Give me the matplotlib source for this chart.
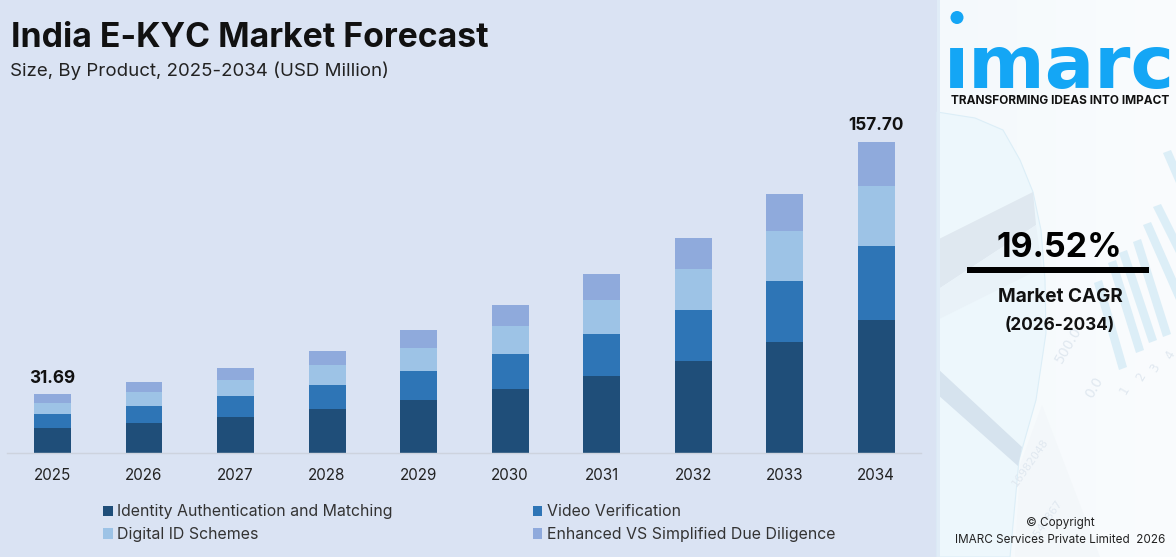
import matplotlib
matplotlib.use("Agg")
import matplotlib.pyplot as plt
from matplotlib.patches import Polygon, Circle, Rectangle
import numpy as np

years = ["2025","2026","2027","2028","2029","2030","2031","2032","2033","2034"]
identity = [12.7,15.2,18.3,22.3,26.9,32.4,39.0,46.6,56.3,67.4]
video = [7.1,8.6,10.6,12.2,14.7,17.7,21.3,25.9,30.9,37.5]
digital = [5.6,7.1,8.1,10.1,11.7,14.2,17.2,20.8,25.4,30.4]
enhanced = [4.6,5.1,6.1,7.1,9.1,10.6,13.2,15.7,18.8,22.3]
series_names = ["Identity Authentication and Matching","Video Verification","Digital ID Schemes","Enhanced VS Simplified Due Diligence"]
colors = ["#1F4E79","#2E75B6","#9DC3E6","#8FAADC"]
first_label, last_label = "31.69", "157.70"

W, H = 1176, 557
fig = plt.figure(figsize=(W/100, H/100), dpi=100, facecolor="#DAE3F3")

bg = fig.add_axes([0,0,1,1])
bg.set_xlim(0,W); bg.set_ylim(H,0); bg.axis("off")
SANS = "Inter"
def px(v): return v*0.72

# right panel
grad = np.linspace(0,1,240)[None,:]
bg.imshow(grad, extent=(937,W,H,0), cmap=matplotlib.colors.LinearSegmentedColormap.from_list("p",["#F4F9FC","#FAFCFE"]), aspect="auto", zorder=1)
bg.set_xlim(0,W); bg.set_ylim(H,0)
bg.add_patch(Polygon([(937,112),(975,118),(1003,130),(1020,160),(1033,192),(1041,230),(1045,280),(1046,333),(1036,400),(1019,460),(1010,557),(937,557)],fc="#EDF7FC",ec="#DCEEF7",lw=0.8,zorder=2))
bg.add_patch(Polygon([(937,240),(1033,192),(1036,225),(937,290)],fc="#DFE8F0",ec="none",zorder=3))
bg.add_patch(Polygon([(937,290),(1036,225),(1042,268),(937,320)],fc="#E9F2F8",ec="none",zorder=3))
bg.add_patch(Polygon([(937,368),(1022,447),(1018,466),(937,394)],fc="#D6E3EE",ec="none",zorder=3))
bg.add_patch(Polygon([(1020,465),(1042,405),(1100,557),(1015,557)],fc="#F3F7FA",ec="none",zorder=3))
bg.add_patch(Rectangle((937,0),3,H,fc="#E0ECF7",ec="none",zorder=3))
for (x0,y0,x1,y1) in [(1094,283,1119,370),(1108,263,1136,353),(1119,253,1149,343),(1133,242,1163,337),(1143,225,1176,300),(1153,207,1176,253),(1163,153,1176,183)]:
    bg.add_patch(Polygon([(x0,y0),(x0+8,y0-3),(x1+8,y1-3),(x1,y1)],fc="#DCEEF7",ec="none",zorder=3))
for s,x,y,r,fs in [("500.0",1068,345,60,14),("0.0",1094,387,60,14),("1",1125,390,60,12),("2",1141,377,60,12),("3",1155,368,60,12),("4",1170,355,60,12),("16982048",1030,462,55,11),("1547867",1046,520,55,11)]:
    bg.text(x,y,s,rotation=r,fontsize=px(fs),color="#E0E8F0",family="DejaVu Sans",ha="center",va="center",zorder=4)

# logo
bg.add_patch(Circle((957,17.5),6.5,fc="#14A6F5",ec="none",zorder=5))
bg.text(944,88,"\u0131marc",fontsize=px(73.5),fontweight="bold",family="DejaVu Sans",color="#14A6F5",ha="left",va="baseline",zorder=5)
bg.text(1060.5,101,"TRANSFORMING IDEAS INTO IMPACT",fontsize=px(11.9),fontweight="bold",family=SANS,color="#111111",ha="center",va="center",zorder=5)

# CAGR block
bg.text(1059.5,248,"19.52%",fontsize=px(34),fontweight="bold",family=SANS,color="black",ha="center",va="center",zorder=5)
bg.add_patch(Rectangle((967,267),182,5.5,fc="black",ec="none",zorder=5))
bg.text(1060,297,"Market CAGR",fontsize=px(19),fontweight="bold",family=SANS,color="#111111",ha="center",va="center",zorder=5)
bg.text(1060,325,"(2026-2034)",fontsize=px(17.2),fontweight="bold",family=SANS,color="#111111",ha="center",va="center",zorder=5)
bg.text(1060,523,"\u00a9 Copyright",fontsize=px(11.7),family=SANS,color="#222222",ha="center",va="center",zorder=5)
bg.text(1060.5,540,"IMARC Services Private Limited  2026",fontsize=px(11.7),family=SANS,color="#222222",ha="center",va="center",zorder=5)

# titles
bg.text(11,38,"India E-KYC Market Forecast",fontsize=px(33.8),fontweight="bold",family=SANS,color="#111111",ha="left",va="center",zorder=5)
bg.text(10,71,"Size, By Product, 2025-2034 (USD Million)",fontsize=px(18.7),family=SANS,color="#222222",ha="left",va="center",zorder=5)

# chart
L,R,B,T = 7,921,453,100
ax = fig.add_axes([L/W,1-B/H,(R-L)/W,(B-T)/H],facecolor="none")
x = np.arange(len(years))
bottom = np.zeros(len(years))
handles = []
for vals,c,name in zip([identity,video,digital,enhanced],colors,series_names):
    b = ax.bar(x,vals,0.404,bottom=bottom,color=c,label=name,linewidth=0)
    handles.append(b)
    bottom += np.array(vals)
ax.set_xlim(-0.497,9.49)
ax.set_ylim(0,(B-T)*157.7/311)
ax.set_xticks(x,years,fontsize=px(15.2),family=SANS,color="#222222")
ax.tick_params(axis="x",length=0,pad=11)
ax.set_yticks([])
for s in ["top","left","right"]: ax.spines[s].set_visible(False)
ax.spines["bottom"].set_color("#CDD3DE"); ax.spines["bottom"].set_linewidth(1)
ax.text(0,bottom[0]+3.5,first_label,fontsize=px(17.2),fontweight="bold",family=SANS,color="#111111",ha="center",va="bottom")
ax.text(9,bottom[-1]+4,last_label,fontsize=px(17.2),fontweight="bold",family=SANS,color="#111111",ha="center",va="bottom")

order=[0,2,1,3]
leg = fig.legend([handles[i] for i in order],[series_names[i] for i in order],ncol=2,
    loc="upper left",bbox_to_anchor=(100/W,1-501/H),frameon=False,
    prop={"family":SANS,"size":px(15.9)},labelcolor="#333333",handlelength=0.6,handleheight=0.6,
    handletextpad=0.28,columnspacing=8.8,labelspacing=0.5,borderpad=0.2,borderaxespad=0)
fig.savefig("out.png",dpi=100,facecolor=fig.get_facecolor())
